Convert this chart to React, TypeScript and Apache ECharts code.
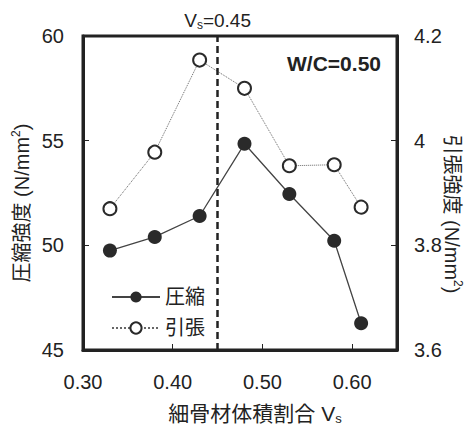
import React, { useEffect, useRef } from "react";
import * as echarts from "echarts";

const xValues = [0.33, 0.38, 0.43, 0.48, 0.53, 0.58, 0.61];
const compression = [49.75, 50.4, 51.4, 54.85, 52.45, 50.22, 46.28];
const tensile = [3.87, 3.978, 4.154, 4.1, 3.952, 3.954, 3.873];
const xTickLabels = ["0.30", "0.40", "0.50", "0.60"];
const vsLine = 0.45;
const seriesNames = ["圧縮", "引張"];

const FONT = "Liberation Sans, Arial, 'Noto Sans CJK JP', sans-serif";
const INK = "#222";

export default function App() {
  const ref = useRef<HTMLDivElement>(null);
  useEffect(() => {
    document.body.style.margin = "0";
    const chart = echarts.init(ref.current!, undefined, { renderer: "svg" });
    chart.setOption({
      animation: false,
      backgroundColor: "#fff",
      textStyle: { fontFamily: FONT, color: INK },
      grid: {
        left: 83,
        top: 36,
        right: 74,
        bottom: 77,
        show: true,
        borderColor: INK,
        borderWidth: 3,
        backgroundColor: "transparent",
      },
      legend: {
        orient: "vertical",
        left: 106,
        top: 282,
        itemWidth: 48,
        itemHeight: 14,
        itemGap: 11,
        textStyle: { fontSize: 20, color: INK, fontFamily: FONT },
        data: seriesNames,
      },
      xAxis: {
        type: "value",
        min: 0.3,
        max: 0.65,
        interval: 0.1,
        splitLine: { show: false },
        axisLine: { lineStyle: { color: INK, width: 3 } },
        axisTick: { inside: true, length: 6, lineStyle: { color: INK, width: 1 } },
        axisLabel: {
          fontSize: 20,
          color: INK,
          margin: 22,
          formatter: (v: number) => {
            const s = v.toFixed(2);
            return xTickLabels.includes(s) ? s : "";
          },
        },
      },
      yAxis: [
        {
          type: "value",
          min: 45,
          max: 60,
          interval: 5,
          splitLine: { show: false },
          axisLine: { show: true, lineStyle: { color: INK, width: 3 } },
          axisTick: { show: true, inside: true, length: 6, lineStyle: { color: INK, width: 1 } },
          axisLabel: { fontSize: 20, color: INK, margin: 19 },
        },
        {
          type: "value",
          min: 3.6,
          max: 4.2,
          interval: 0.2,
          position: "right",
          splitLine: { show: false },
          axisLine: { show: true, lineStyle: { color: INK, width: 3 } },
          axisTick: { show: true, inside: true, length: 6, lineStyle: { color: INK, width: 1 } },
          axisLabel: { fontSize: 20, color: INK, margin: 17 },
        },
      ],
      series: [
        {
          name: seriesNames[0],
          type: "line",
          yAxisIndex: 0,
          data: xValues.map((x, i) => [x, compression[i]]),
          symbol: "circle",
          symbolSize: 14,
          itemStyle: { color: "#2a2a2a" },
          lineStyle: { color: "#444", width: 1.3 },
          markLine: {
            silent: true,
            symbol: "none",
            lineStyle: { color: INK, width: 2.5, type: [7, 4] },
            label: {
              show: true,
              position: "end",
              distance: 5,
              fontSize: 19,
              color: INK,
              fontFamily: FONT,
              formatter: "{n|V}{s|s}{n|=0.45}",
              rich: {
                n: { fontSize: 19, lineHeight: 22, verticalAlign: "middle", color: INK, fontFamily: FONT },
                s: { fontSize: 12, lineHeight: 12, verticalAlign: "bottom", color: INK, fontFamily: FONT },
              },
            },
            data: [{ xAxis: vsLine }],
          },
        },
        {
          name: seriesNames[1],
          type: "line",
          yAxisIndex: 1,
          data: xValues.map((x, i) => [x, tensile[i]]),
          symbol: "circle",
          symbolSize: 13,
          itemStyle: { color: "#fff", borderColor: "#2a2a2a", borderWidth: 2 },
          lineStyle: { color: "#666", width: 1, type: "dotted" },
        },
      ],
      graphic: [
        {
          type: "text",
          x: 381,
          y: 63,
          style: {
            text: "W/C=0.50",
            fontSize: 21,
            fontWeight: "bold",
            fontFamily: FONT,
            fill: INK,
            align: "right",
            verticalAlign: "middle",
          },
        },
        {
          type: "text",
          x: 22,
          y: 203,
          rotation: Math.PI / 2,
          style: {
            text: "圧縮強度 (N/mm{sup|2})",
            fontSize: 20,
            lineHeight: 24,
            fontFamily: FONT,
            fill: INK,
            align: "center",
            verticalAlign: "middle",
            rich: {
              sup: { fontSize: 12, lineHeight: 12, verticalAlign: "top", fill: INK, fontFamily: FONT },
            },
          },
        },
        {
          type: "text",
          x: 452,
          y: 214,
          rotation: -Math.PI / 2,
          style: {
            text: "引張強度 (N/mm{sup|2})",
            fontSize: 20,
            lineHeight: 24,
            fontFamily: FONT,
            fill: INK,
            align: "center",
            verticalAlign: "middle",
            rich: {
              sup: { fontSize: 12, lineHeight: 12, verticalAlign: "top", fill: INK, fontFamily: FONT },
            },
          },
        },
        {
          type: "text",
          x: 255,
          y: 413,
          style: {
            text: "細骨材体積割合 V{sub|s}",
            fontSize: 21,
            lineHeight: 24,
            fontFamily: FONT,
            fill: INK,
            align: "center",
            verticalAlign: "middle",
            rich: {
              sub: { fontSize: 13, lineHeight: 13, verticalAlign: "bottom", fill: INK, fontFamily: FONT },
            },
          },
        },
      ],
    });
    return () => chart.dispose();
  }, []);
  return (
    <div
      ref={ref}
      style={{ position: "fixed", left: 0, top: 0, width: 471, height: 427 }}
    />
  );
}
